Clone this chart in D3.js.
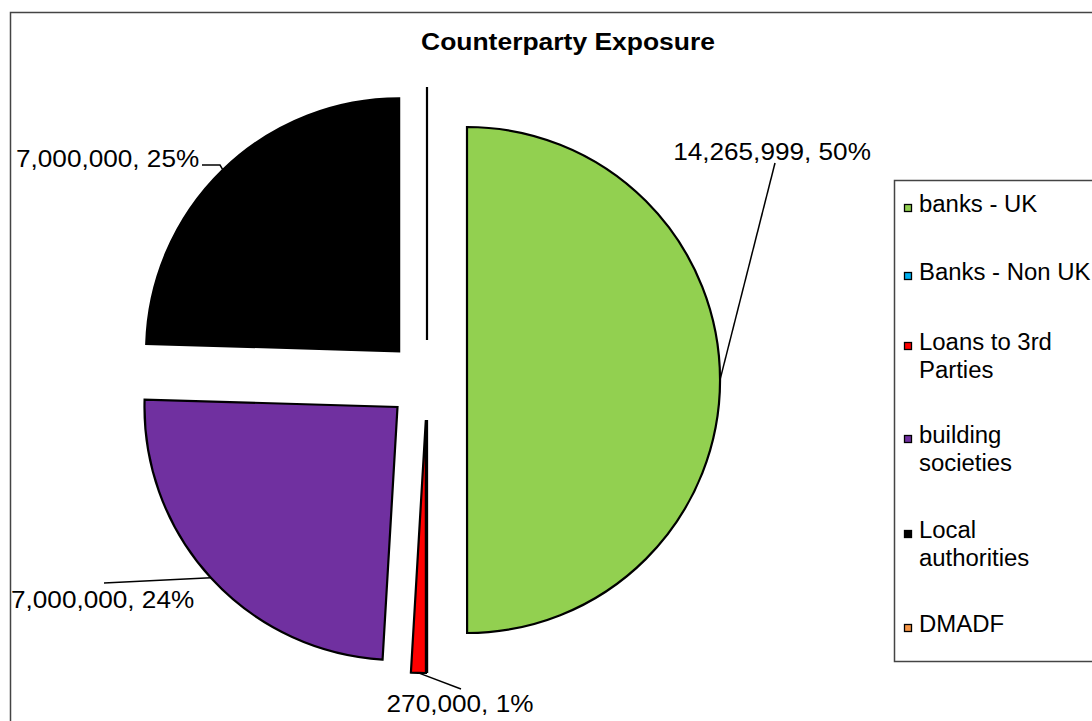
<!DOCTYPE html>
<html>
<head>
<meta charset="utf-8">
<script src="https://cdn.jsdelivr.net/npm/d3@7"></script>
<style>
  html, body { margin: 0; padding: 0; background: #fff; }
  svg { display: block; font-family: "Liberation Sans", Arial, sans-serif; }
</style>
</head>
<body>
<svg id="chart" width="1092" height="721"></svg>
<script>
// ---- data ----
const categories = ["banks - UK", "Banks - Non UK", "Loans to 3rd Parties", "building societies", "Local authorities", "DMADF"];
const legendLines = [["banks - UK"], ["Banks - Non UK"], ["Loans to 3rd", "Parties"], ["building", "societies"], ["Local", "authorities"], ["DMADF"]];
const values = [14265999, 0, 270000, 7000000, 7000000, 0];
const pctLabels = ["50%", "", "1%", "24%", "25%", ""];
const colors = ["#92D050", "#00B0F0", "#FF0000", "#7030A0", "#000000", "#F79646"];
const title = "Counterparty Exposure";

// ---- layout ----
const svg = d3.select("#chart");
const W = 1092, H = 721;
const cx = 427, cy = 380, R = 253, explode = 40;

// text helper with horizontal stretch
function stretchedText(parent, x, y, str, size, sx, anchor, weight) {
  const gg = parent.append("g").attr("transform", `translate(${x},${y}) scale(${sx},1)`);
  return gg.append("text").attr("x", 0).attr("y", 0)
    .attr("text-anchor", anchor || "start")
    .attr("font-size", size).attr("font-weight", weight || "normal").text(str);
}

svg.append("rect").attr("x", 10.5).attr("y", 12.5).attr("width", W + 20).attr("height", H + 20)
  .attr("fill", "#fff").attr("stroke", "#444").attr("stroke-width", 1.5);

stretchedText(svg, 568, 50, title, 24.5, 1.08, "middle", "bold");

const pie = d3.pie().sort(null).value(d => d).startAngle(0).endAngle(2 * Math.PI);
const arcs = pie(values);
const arc = d3.arc().innerRadius(0).outerRadius(R);
const fmt = d3.format(",");

const dir = a => [Math.sin(a), -Math.cos(a)];

const g = svg.append("g").attr("transform", `translate(${cx},${cy})`);
arcs.forEach((a, i) => {
  const mid = (a.startAngle + a.endAngle) / 2;
  const [dx, dy] = dir(mid);
  g.append("path")
    .attr("d", arc(a))
    .attr("transform", `translate(${dx * explode},${dy * explode})`)
    .attr("fill", a.value === 0 ? "none" : colors[i])
    .attr("stroke", "#000").attr("stroke-width", 2.2).attr("stroke-linejoin", "miter");
});

// ---- data labels ----
const labelPos = {
  0: { tx: 772, ty: 160, anchor: "middle", lead: [[775, 163]] },
  2: { tx: 460, ty: 712, anchor: "middle", lead: [[461, 689]] },
  3: { tx: 11, ty: 608, anchor: "start", lead: [[104, 583]] },
  4: { tx: 16, ty: 167, anchor: "start", lead: [[220, 165], [202, 165]] }
};
const lbl = svg.append("g");
arcs.forEach((a, i) => {
  const p = labelPos[i];
  if (!p) return;
  const mid = (a.startAngle + a.endAngle) / 2;
  const [dx, dy] = dir(mid);
  const ex = cx + dx * (explode + R), ey = cy + dy * (explode + R);
  const pts = [[ex, ey]].concat(p.lead);
  lbl.append("path").attr("d", d3.line()(pts)).attr("fill", "none")
    .attr("stroke", "#000").attr("stroke-width", 1.5);
  stretchedText(lbl, p.tx, p.ty, fmt(a.value) + ", " + pctLabels[i], 24, 1.09, p.anchor);
});

// ---- legend ----
svg.append("rect").attr("x", 894.5).attr("y", 180.5).attr("width", 300).attr("height", 481)
  .attr("fill", "#fff").attr("stroke", "#444").attr("stroke-width", 1.5);
const lg = svg.append("g");
const firstBase = [212, 280, 350, 443, 538, 632];
categories.forEach((c, i) => {
  lg.append("rect").attr("x", 904.5).attr("y", firstBase[i] - 7.5).attr("width", 7).attr("height", 7)
    .attr("fill", colors[i]).attr("stroke", "#000").attr("stroke-width", 1.3);
  legendLines[i].forEach((ln, j) => {
    stretchedText(lg, 919, firstBase[i] + j * 27.5, ln, 23, 1.04, "start");
  });
});
</script>
</body>
</html>
